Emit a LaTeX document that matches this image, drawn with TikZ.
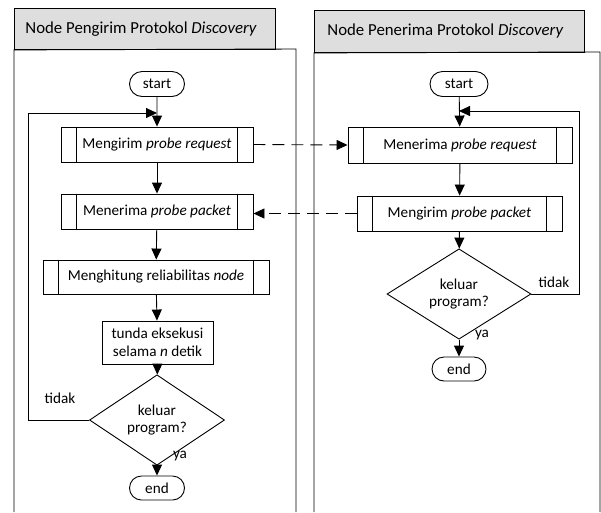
\documentclass[tikz,border=0pt]{standalone}
\usepackage{fontspec}
\setmainfont{Carlito}
\usetikzlibrary{shapes.geometric,shapes.misc,arrows.meta,calc}
\definecolor{hdr}{RGB}{222,222,222}
\begin{document}
\begin{tikzpicture}[x=1pt,y=-1pt,line width=0.9pt,
  every node/.style={font=\fontsize{15.2}{17.5}\selectfont},
  term/.style={draw,rounded rectangle,minimum width=55pt,minimum height=25pt,inner sep=0pt},
  proc/.style={draw,rectangle,inner sep=0pt},
  dec/.style={draw,diamond,inner sep=0pt,align=center},
  act/.style={draw,rectangle,align=center,inner sep=0pt},
  hdrbox/.style={draw,fill=hdr,rectangle,inner sep=0pt,anchor=north west},
  hdrtext/.style={anchor=west,inner sep=0pt,font=\fontsize{16.8}{19}\selectfont},
  flow/.style={-{Triangle[length=11pt,width=10pt]}},
  dflow/.style={flow,dash pattern=on 12pt off 7pt},
  lbl/.style={inner sep=0pt}
]
\useasboundingbox (0,0) rectangle (601,512);

% lanes
\node[hdrbox,minimum width=261pt,minimum height=41pt] (hL) at (14,8) {};
\node[hdrtext] (hLt) at (25,29) {Node Pengirim Protokol \textit{Discovery}};
\draw (14,512) -- (hL.south west) -- (296,49) -- (296,512);

\node[hdrbox,minimum width=270pt,minimum height=42pt] (hR) at (314,10) {};
\node[hdrtext] (hRt) at (327,31) {Node Penerima Protokol \textit{Discovery}};
\draw (314,512) -- (hR.south west) -- (600,52) -- (600,512);

% left flow
\node[term] (sL) at (157,84) {start};
\node[proc,minimum width=192pt,minimum height=35pt] (l1) at (157,144.5) {Mengirim \textit{probe request}};
\node[proc,minimum width=192pt,minimum height=35pt] (l2) at (157,211.5) {Menerima \textit{probe packet}};
\node[proc,minimum width=226pt,minimum height=34pt] (l3) at (156,277) {Menghitung reliabilitas \textit{node}};
\node[act,minimum width=111pt,minimum height=43pt] (l4) at (157.5,342.5) {tunda eksekusi\\selama \textit{n} detik};
\node[dec,minimum width=135pt,minimum height=51pt] (dL) at (157,420) {keluar\\program?};
\node[term,minimum height=24pt] (eL) at (157,488) {end};
\coordinate (jL) at (157,113);

\foreach \n/\o in {l1/16,l2/16,l3/16}{
  \draw ([xshift=\o pt]\n.north west) -- ([xshift=\o pt]\n.south west);
  \draw ([xshift=-\o pt]\n.north east) -- ([xshift=-\o pt]\n.south east);
}

\draw[flow] (sL) -- (l1);
\draw[flow] (l1) -- (l2);
\draw[flow] (l2) -- (l3);
\draw[flow] (l3) -- (l4);
\draw[flow] (l4) -- (dL);
\draw[flow] (dL) -- (eL);
\draw[flow] (dL.west) -- ++(-61,0) |- (jL);
\node[lbl] (tL) at (60,398) {tidak};
\node[lbl] (yL) at (180,456) {ya};

% right flow
\node[term,minimum width=58pt] (sR) at (459,84) {start};
\node[proc,minimum width=224pt,minimum height=36pt] (r1) at (460,145) {Menerima \textit{probe request}};
\node[proc,minimum width=205pt,minimum height=35pt] (r2) at (459.5,213.5) {Mengirim \textit{probe packet}};
\node[dec,minimum width=144pt,minimum height=62pt] (dR) at (459,294) {keluar\\program?};
\node[term,minimum width=54pt,minimum height=24pt] (eR) at (459,369) {end};
\coordinate (jR) at (459,111);

\foreach \n/\o in {r1/16,r2/16}{
  \draw ([xshift=\o pt]\n.north west) -- ([xshift=\o pt]\n.south west);
  \draw ([xshift=-\o pt]\n.north east) -- ([xshift=-\o pt]\n.south east);
}

\draw[flow] (sR) -- (r1);
\draw[flow] (r1) -- (r2);
\draw[flow] (r2) -- (dR);
\draw[flow] (dR) -- (eR);
\draw[flow] (dR.east) -- ++(48,0) |- (jR);
\node[lbl] (tR) at (554,282) {tidak};
\node[lbl] (yR) at (482,335) {ya};

% messages
\draw[dflow] (l1.east) -- (r1.west);
\draw[dflow] (r2.west) -- (l2.east |- r2.west);
\end{tikzpicture}
\end{document}
